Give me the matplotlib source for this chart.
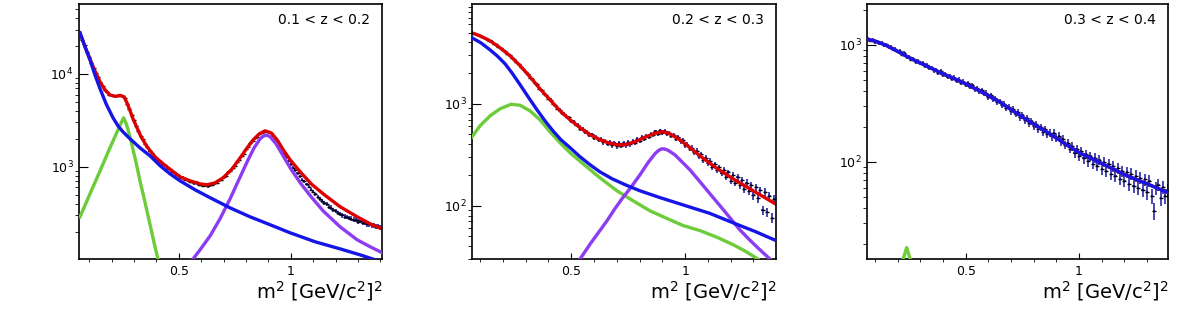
import numpy as np
import matplotlib
matplotlib.use('Agg')
import matplotlib.pyplot as plt
from matplotlib.ticker import (FixedLocator, MultipleLocator, LogLocator,
                               NullFormatter, FuncFormatter)

plt.rcParams['font.family'] = ['DejaVu Sans']

RED = '#dd0000'
BLUE = '#1515e8'
GREEN = '#6ccc3a'
PURPLE = '#8c3cf2'

z_labels = ['0.1 < z < 0.2', '0.2 < z < 0.3', '0.3 < z < 0.4']

# ---- panel 1 : 0.1 < z < 0.2 ----
p1_xdata = np.linspace(0.07, 1.40, 134)
p1_data = [23400, 20300, 17300, 15300, 13200, 11700, 10100, 9150, 8080, 7450,
           6750, 6420, 6000, 5900, 5740, 5790, 5760, 5920, 5830, 5540,
           4790, 4220, 3570, 3170, 2740, 2460, 2130, 1990, 1760, 1640,
           1490, 1420, 1300, 1260, 1160, 1140, 1060, 1040, 965, 950,
           890, 875, 825, 805, 760, 760, 725, 720, 690, 690,
           665, 670, 645, 640, 625, 635, 620, 640, 640, 665,
           675, 715, 725, 770, 800, 870, 900, 965, 1030, 1140,
           1190, 1320, 1390, 1550, 1640, 1810, 1880, 2050, 2110, 2280,
           2330, 2440, 2400, 2380, 2290, 2170, 1990, 1880, 1690, 1560,
           1390, 1290, 1150, 1060, 980, 920, 850, 790, 730, 700,
           650, 610, 570, 540, 505, 475, 450, 430, 405, 395,
           370, 365, 345, 335, 320, 312, 300, 292, 290, 282,
           278, 270, 270, 258, 262, 250, 252, 242, 242, 235,
           236, 228, 230, 222]

p1_total_x = [0.0595, 0.082, 0.104, 0.126, 0.149, 0.171, 0.193, 0.216, 0.238,
              0.256, 0.269, 0.283, 0.296, 0.314, 0.332, 0.359, 0.394, 0.430,
              0.470, 0.506, 0.551, 0.595, 0.626, 0.662, 0.698, 0.738, 0.774,
              0.805, 0.832, 0.859, 0.885, 0.912, 0.939, 0.966, 0.997, 1.042,
              1.091, 1.144, 1.220, 1.296, 1.354, 1.408]
p1_total = [27600, 19500, 14500, 10770, 8200, 6730, 5940, 5730, 5870,
            5660, 4880, 4000, 3280, 2625, 2100, 1640, 1282, 1077,
            906, 780, 706, 656, 640, 673, 762, 951, 1250,
            1600, 1950, 2264, 2440, 2320, 1950, 1525, 1190, 883,
            656, 513, 372, 290, 244, 215]

p1_bkg_x = [0.0595, 0.082, 0.104, 0.126, 0.149, 0.176, 0.207, 0.229, 0.251,
            0.283, 0.327, 0.372, 0.417, 0.461, 0.506, 0.573, 0.640, 0.729,
            0.818, 0.908, 0.997, 1.109, 1.220, 1.309, 1.376]
p1_bkg = [27600, 19500, 14160, 9750, 6900, 4760, 3360, 2760, 2380,
          2000, 1600, 1313, 1026, 841, 706, 566, 465, 362,
          290, 238, 195, 156, 131, 113, 100]

p1_eta_x = [0.0595, 0.104, 0.149, 0.193, 0.225, 0.243, 0.254, 0.266, 0.279,
            0.292, 0.310, 0.327, 0.350, 0.372, 0.394, 0.408]
p1_eta = [290, 513, 906, 1600, 2380, 2970, 3365, 2900, 2264,
          1683, 1104, 706, 410, 238, 138, 100]

p1_rho_x = [0.564, 0.595, 0.640, 0.684, 0.729, 0.774, 0.805, 0.836, 0.863,
            0.875, 0.885, 0.897, 0.908, 0.934, 0.966, 0.997, 1.042, 1.091,
            1.144, 1.220, 1.296, 1.354, 1.408]
p1_rho = [102, 128, 181, 276, 453, 780, 1132, 1600, 2000,
          2120, 2182, 2170, 2102, 1768, 1313, 975, 673, 475,
          336, 226, 164, 138, 119]

# ---- panel 2 : 0.2 < z < 0.3 ----
p2_xdata = np.linspace(0.07, 1.39, 133)
p2_data = [4950, 4800, 4760, 4600, 4560, 4380, 4330, 4170, 4110, 3900,
           3820, 3620, 3540, 3350, 3280, 3080, 3010, 2810, 2760, 2550,
           2480, 2290, 2210, 2040, 1970, 1800, 1750, 1590, 1550, 1410,
           1370, 1250, 1220, 1120, 1095, 995, 975, 890, 875, 805,
           800, 735, 735, 675, 675, 625, 620, 570, 572, 530,
           532, 492, 500, 462, 475, 440, 452, 418, 432, 402,
           420, 392, 412, 382, 408, 385, 408, 390, 418, 400,
           432, 410, 448, 432, 468, 452, 488, 470, 510, 492,
           535, 510, 548, 518, 540, 505, 522, 482, 495, 455,
           470, 428, 438, 392, 398, 362, 372, 335, 346, 305,
           318, 280, 294, 262, 276, 240, 255, 222, 238, 208,
           224, 192, 212, 176, 200, 168, 190, 158, 178, 146,
           168, 138, 158, 126, 152, 118, 142, 90, 136, 86,
           124, 76, 116]

p2_total_x = [0.065, 0.100, 0.144, 0.188, 0.232, 0.276, 0.319, 0.363, 0.407,
              0.451, 0.495, 0.539, 0.583, 0.626, 0.670, 0.701, 0.736, 0.780,
              0.824, 0.868, 0.898, 0.915, 0.933, 0.977, 1.021, 1.065, 1.135,
              1.210, 1.306, 1.394]
p2_total = [4963, 4644, 4150, 3540, 2956, 2362, 1842, 1403, 1094,
            853, 697, 582, 497, 444, 410, 396, 396, 424,
            470, 514, 531, 524, 508, 444, 371, 309, 236,
            184, 137, 105]

p2_bkg_x = [0.065, 0.104, 0.144, 0.175, 0.210, 0.240, 0.276, 0.311, 0.350,
            0.385, 0.420, 0.455, 0.495, 0.539, 0.583, 0.626, 0.679, 0.736,
            0.802, 0.890, 0.990, 1.109, 1.210, 1.306, 1.394]
p2_bkg = [4436, 3963, 3381, 2956, 2466, 2014, 1536, 1171, 873,
          681, 543, 444, 371, 302, 252, 215, 184, 161,
          140, 120, 102, 84, 68, 56, 46]

p2_eta_x = [0.065, 0.100, 0.144, 0.188, 0.236, 0.276, 0.319, 0.363, 0.407,
            0.451, 0.495, 0.552, 0.626, 0.701, 0.771, 0.846, 0.920, 0.990,
            1.065, 1.140, 1.210, 1.262, 1.319]
p2_eta = [474, 608, 762, 893, 989, 967, 853, 697, 531,
          415, 331, 258, 188, 140, 112, 89, 75, 64,
          57, 49, 41.5, 36, 30]

p2_rho_x = [0.539, 0.583, 0.626, 0.657, 0.692, 0.723, 0.758, 0.802, 0.837,
            0.868, 0.883, 0.898, 0.912, 0.925, 0.955, 0.990, 1.021, 1.065,
            1.109, 1.153, 1.197, 1.240, 1.284, 1.328, 1.372]
p2_rho = [30, 42, 57, 71, 93.5, 117, 147, 201, 264,
          324, 348, 362, 359, 350, 316, 264, 225, 172,
          131, 100, 76, 58, 46, 37, 30]

# ---- panel 3 : 0.3 < z < 0.4 ----
p3_xdata = np.linspace(0.07, 1.39, 133)
p3_data = [1130, 1090, 1110, 1060, 1075, 1030, 1040, 990, 1010, 955,
           960, 915, 925, 880, 885, 825, 850, 790, 795, 750,
           765, 720, 730, 695, 700, 660, 675, 635, 640, 605,
           615, 580, 595, 555, 565, 535, 545, 515, 525, 490,
           505, 475, 485, 455, 470, 440, 450, 420, 425, 400,
           410, 385, 390, 360, 372, 345, 350, 325, 330, 305,
           312, 288, 296, 270, 282, 258, 265, 240, 250, 228,
           236, 215, 222, 203, 210, 192, 198, 180, 190, 172,
           178, 165, 176, 160, 168, 150, 158, 140, 146, 130,
           136, 120, 128, 113, 123, 107, 116, 101, 112, 96,
           108, 93, 104, 87, 100, 83, 96, 79, 92, 76,
           88, 72, 84, 69, 82, 65, 79, 62, 76, 60,
           73, 58, 71, 55, 69, 51, 38, 60, 64, 49,
           61, 51, 57]

p3_total_x = [0.065, 0.10, 0.15, 0.20, 0.25, 0.30, 0.35, 0.40, 0.45, 0.50,
              0.55, 0.60, 0.65, 0.70, 0.75, 0.80, 0.85, 0.90, 0.95, 1.00,
              1.05, 1.10, 1.15, 1.20, 1.25, 1.30, 1.35, 1.39]
p3_total = [1120, 1080, 990, 880, 780, 700, 630, 565, 515, 465,
            415, 368, 325, 280, 242, 210, 184, 160, 138, 120,
            108, 97, 87, 78, 71, 65, 59, 55]

p3_eta_x = [0.21, 0.24, 0.27]
p3_eta = [12, 18.5, 12]

panels = [
    dict(xd=p1_xdata, yd=p1_data, tot=(p1_total_x, p1_total),
         bkg=(p1_bkg_x, p1_bkg), eta=(p1_eta_x, p1_eta), rho=(p1_rho_x, p1_rho),
         xlim=(0.055, 1.407), ylim=(102, 56600),
         rect=[0.0669, 0.208, 0.2566, 0.780]),
    dict(xd=p2_xdata, yd=p2_data, tot=(p2_total_x, p2_total),
         bkg=(p2_bkg_x, p2_bkg), eta=(p2_eta_x, p2_eta), rho=(p2_rho_x, p2_rho),
         xlim=(0.065, 1.399), ylim=(30, 9550),
         rect=[0.3997, 0.208, 0.2574, 0.780]),
    dict(xd=p3_xdata, yd=p3_data, tot=(p3_total_x, p3_total),
         bkg=(p3_total_x, p3_total), eta=(p3_eta_x, p3_eta), rho=None,
         xlim=(0.065, 1.392), ylim=(14.8, 2240),
         rect=[0.7341, 0.208, 0.2549, 0.780]),
]

fig = plt.figure(figsize=(11.81, 3.27), dpi=100)

for p, zlab in zip(panels, z_labels):
    ax = fig.add_axes(p['rect'])
    ax.set_yscale('log')
    yd = np.array(p['yd'], dtype=float)
    # statistical errors of the histogram bins
    ax.errorbar(p['xd'], yd, yerr=np.sqrt(yd), xerr=0.005, fmt='none',
                ecolor='#16169e', elinewidth=1.1, zorder=1)
    ax.plot(p['xd'], yd, ls='none', marker='_', color='k', ms=2.5, mew=1.0,
            zorder=1.5)
    lw = 2.4
    ax.plot(*p['tot'], color=RED, lw=lw, zorder=2)
    ax.plot(*p['eta'], color=GREEN, lw=lw, zorder=3)
    if p['rho'] is not None:
        ax.plot(*p['rho'], color=PURPLE, lw=lw, zorder=3)
    ax.plot(*p['bkg'], color=BLUE, lw=lw, zorder=4)

    ax.set_xlim(*p['xlim'])
    ax.set_ylim(*p['ylim'])

    ax.xaxis.set_major_locator(FixedLocator([0.5, 1.0]))
    ax.xaxis.set_major_formatter(FuncFormatter(lambda v, pos: '%g' % v))
    ax.xaxis.set_minor_locator(MultipleLocator(0.1))
    ax.yaxis.set_major_locator(LogLocator(base=10))
    ax.yaxis.set_minor_locator(LogLocator(base=10, subs=np.arange(2, 10)))
    ax.yaxis.set_minor_formatter(NullFormatter())

    ax.tick_params(direction='in', top=False, right=False, labelsize=9,
                   width=0.8)
    ax.tick_params(axis='x', which='major', length=4.3, pad=4.5)
    ax.tick_params(axis='x', which='minor', length=2.4)
    ax.tick_params(axis='y', which='major', length=6.5, pad=4)
    ax.tick_params(axis='y', which='minor', length=3.2)
    for s in ax.spines.values():
        s.set_linewidth(1.2)

    ax.text(0.96, 0.937, zlab, transform=ax.transAxes, ha='right',
            va='center', fontsize=10)
    ax.text(1.0, -0.125, r'm$^2$ [GeV/c$^2$]$^2$', transform=ax.transAxes,
            ha='right', va='center', fontsize=14)

fig.savefig('out.png', dpi=100)
